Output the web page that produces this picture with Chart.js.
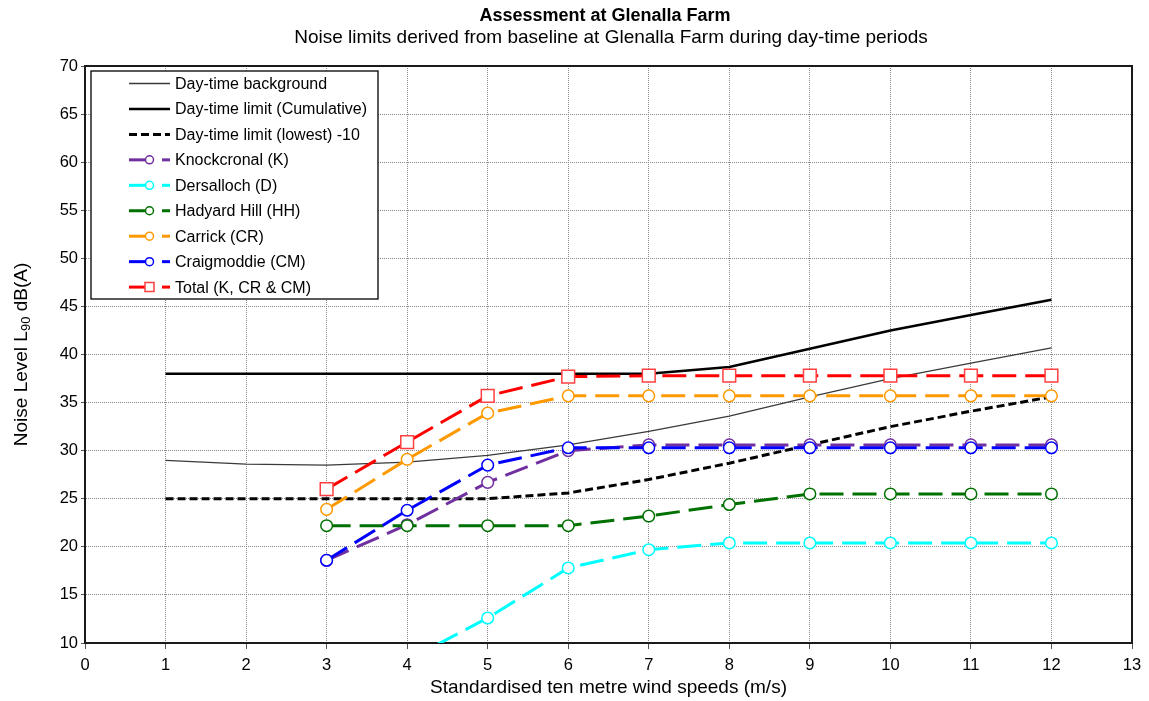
<!DOCTYPE html>
<html><head><meta charset="utf-8">
<script src="https://cdn.jsdelivr.net/npm/chart.js@4.4.0/dist/chart.umd.min.js"></script>
<style>html,body{margin:0;padding:0;background:#fff;}#wrap{width:1149px;height:701px;position:relative;}</style>
</head><body><div id="wrap"><canvas id="c" width="1149" height="701"></canvas></div>
<script>
const chartTitle = 'Assessment at Glenalla Farm';
const chartSubtitle = 'Noise limits derived from baseline at Glenalla Farm during day-time periods';
const xAxisTitle = 'Standardised ten metre wind speeds (m/s)';
const yAxisTitleParts = ['Noise Level L', '90', ' dB(A)'];

const windSpeeds = [1, 2, 3, 4, 5, 6, 7, 8, 9, 10, 11, 12];
const dayBackground = [29.0, 28.6, 28.5, 28.8, 29.5, 30.6, 32.0, 33.6, 35.6, 37.5, 39.1, 40.7];
const dayLimitCumulative = [38.0, 38.0, 38.0, 38.0, 38.0, 38.0, 38.0, 38.7, 40.6, 42.5, 44.1, 45.7];
const dayLimitLowest = [25.0, 25.0, 25.0, 25.0, 25.0, 25.6, 27.0, 28.7, 30.6, 32.5, 34.1, 35.6];
const knockcronal = [null, null, 18.6, 22.3, 26.7, 30.0, 30.6, 30.6, 30.6, 30.6, 30.6, 30.6];
const dersalloch = [null, null, null, 8.2, 12.6, 17.8, 19.7, 20.4, 20.4, 20.4, 20.4, 20.4];
const hadyardHill = [null, null, 22.2, 22.2, 22.2, 22.2, 23.2, 24.4, 25.5, 25.5, 25.5, 25.5];
const carrick = [null, null, 23.9, 29.1, 33.9, 35.7, 35.7, 35.7, 35.7, 35.7, 35.7, 35.7];
const craigmoddie = [null, null, 18.6, 23.8, 28.5, 30.3, 30.3, 30.3, 30.3, 30.3, 30.3, 30.3];
const totalKCRCM = [null, null, 26.0, 30.9, 35.7, 37.7, 37.8, 37.8, 37.8, 37.8, 37.8, 37.8];

const seriesLabels = ['Day-time background', 'Day-time limit (Cumulative)', 'Day-time limit (lowest) -10',
  'Knockcronal (K)', 'Dersalloch (D)', 'Hadyard Hill (HH)', 'Carrick (CR)', 'Craigmoddie (CM)', 'Total (K, CR & CM)'];
const xMin = 0, xMax = 13, xStep = 1;
const yMin = 10, yMax = 70, yStep = 5;

const FONT = 'Arial, "Liberation Sans", sans-serif';

function pts(arr) { return windSpeeds.map((x, i) => ({x: x, y: arr[i]})); }

const styles = [
  {color: '#3a3a3a', width: 1.3, dash: [], marker: null},
  {color: '#000000', width: 2.6, dash: [], marker: null},
  {color: '#000000', width: 3, dash: [8, 4], marker: null},
  {color: '#7030A0', width: 3, dash: [24, 9], marker: 'circle'},
  {color: '#00FFFF', width: 3, dash: [24, 9], marker: 'circle'},
  {color: '#007000', width: 3, dash: [24, 9], marker: 'circle'},
  {color: '#FF9900', width: 3, dash: [24, 9], marker: 'circle'},
  {color: '#0000FF', width: 3, dash: [24, 9], marker: 'circle'},
  {color: '#FF0000', width: 3, dash: [24, 9], marker: 'rect'}
];
const seriesData = [dayBackground, dayLimitCumulative, dayLimitLowest, knockcronal, dersalloch, hadyardHill, carrick, craigmoddie, totalKCRCM];

const datasets = seriesData.map((arr, i) => {
  const s = styles[i];
  return {
    label: seriesLabels[i],
    data: pts(arr),
    borderColor: s.color,
    borderWidth: s.width,
    borderDash: s.dash,
    borderCapStyle: 'butt',
    tension: 0,
    fill: false,
    spanGaps: false,
    order: seriesData.length - i,
    pointStyle: s.marker || 'circle',
    pointRadius: s.marker ? (s.marker === 'rect' ? 9 : 5.8) : 0,
    pointHoverRadius: s.marker ? 6 : 0,
    pointBorderWidth: 1.5,
    pointBorderColor: s.marker === 'rect' ? '#FF4040' : s.color,
    pointBackgroundColor: '#ffffff'
  };
});

const decorPlugin = {
  id: 'decor',
  beforeDatasetsDraw(chart) {
    const {ctx, chartArea: a} = chart;
    ctx.save();
    ctx.strokeStyle = '#1a1a1a';
    ctx.lineWidth = 2;
    ctx.strokeRect(a.left, a.top, a.right - a.left, a.bottom - a.top);
    ctx.restore();
  },
  afterDraw(chart) {
    const {ctx, chartArea: a} = chart;
    ctx.save();
    ctx.fillStyle = '#000';
    ctx.textAlign = 'center';
    ctx.textBaseline = 'middle';
    ctx.font = 'bold 18px ' + FONT;
    ctx.fillText(chartTitle, 605, 16);
    ctx.font = '19px ' + FONT;
    ctx.fillText(chartSubtitle, 611, 38);
    ctx.translate(21, (a.top + a.bottom) / 2);
    ctx.rotate(-Math.PI / 2);
    const big = '19px ' + FONT, small = '13px ' + FONT;
    ctx.font = big; const w1 = ctx.measureText(yAxisTitleParts[0]).width;
    const w3 = ctx.measureText(yAxisTitleParts[2]).width;
    ctx.font = small; const w2 = ctx.measureText(yAxisTitleParts[1]).width;
    let x = -(w1 + w2 + w3) / 2;
    ctx.textAlign = 'left';
    ctx.textBaseline = 'alphabetic';
    ctx.font = big; ctx.fillText(yAxisTitleParts[0], x, 6); x += w1;
    ctx.font = small; ctx.fillText(yAxisTitleParts[1], x, 9); x += w2;
    ctx.font = big; ctx.fillText(yAxisTitleParts[2], x, 6);
    ctx.restore();

    ctx.save();
    const L = {x: 91, y: 71, w: 287, h: 228};
    ctx.fillStyle = '#fff';
    ctx.fillRect(L.x, L.y, L.w, L.h);
    ctx.strokeStyle = '#000';
    ctx.lineWidth = 1.3;
    ctx.strokeRect(L.x, L.y, L.w, L.h);
    chart.data.datasets.forEach((ds, i) => {
      const s = styles[i];
      const cy = 83.5 + i * 25.45;
      ctx.strokeStyle = s.color;
      ctx.lineWidth = s.width;
      ctx.lineCap = 'butt';
      if (!s.marker) {
        ctx.setLineDash(s.dash);
        ctx.beginPath(); ctx.moveTo(129, cy); ctx.lineTo(170, cy); ctx.stroke();
        ctx.setLineDash([]);
      } else {
        ctx.beginPath(); ctx.moveTo(129, cy); ctx.lineTo(146, cy); ctx.stroke();
        ctx.beginPath(); ctx.moveTo(162, cy); ctx.lineTo(170, cy); ctx.stroke();
        ctx.lineWidth = 1.5;
        ctx.fillStyle = '#fff';
        ctx.strokeStyle = s.marker === 'rect' ? '#FF4040' : s.color;
        ctx.beginPath();
        if (s.marker === 'rect') ctx.rect(145, cy - 4.5, 9, 9);
        else ctx.arc(149.5, cy, 4, 0, Math.PI * 2);
        ctx.fill(); ctx.stroke();
      }
      ctx.fillStyle = '#000';
      ctx.font = '16px ' + FONT;
      ctx.textAlign = 'left';
      ctx.textBaseline = 'middle';
      ctx.fillText(ds.label, 175, cy + 1);
    });
    ctx.restore();
  }
};

new Chart(document.getElementById('c'), {
  type: 'line',
  data: {datasets: datasets},
  plugins: [decorPlugin],
  options: {
    responsive: false,
    animation: false,
    devicePixelRatio: 1,
    layout: {padding: {top: 66, right: 17, bottom: 0, left: 0}},
    plugins: {legend: {display: false}, tooltip: {enabled: false}, title: {display: false}},
    scales: {
      x: {
        type: 'linear', min: xMin, max: xMax,
        ticks: {stepSize: xStep, color: '#000', font: {family: FONT, size: 16.5}, padding: 7, maxRotation: 0, autoSkip: false},
        grid: {color: '#8a8a8a', lineWidth: 1, tickLength: 6, tickColor: '#555', drawTicks: true},
        border: {display: true, color: '#1a1a1a', width: 2, dash: [1, 1]},
        title: {display: true, text: xAxisTitle, color: '#000', font: {family: FONT, size: 19, lineHeight: 1.2}, padding: {top: 0, bottom: 2}},
        afterFit(s) { s.height = 58; s.paddingLeft = 0; s.paddingRight = 0; }
      },
      y: {
        type: 'linear', min: yMin, max: yMax,
        ticks: {stepSize: yStep, color: '#000', font: {family: FONT, size: 16.5}, padding: 3},
        grid: {color: '#8a8a8a', lineWidth: 1, tickLength: 4, tickColor: '#555'},
        border: {display: true, color: '#1a1a1a', width: 2, dash: [1, 1]},
        afterFit(s) { s.width = 85; s.paddingTop = 0; s.paddingBottom = 0; }
      }
    }
  }
});
</script></body></html>
